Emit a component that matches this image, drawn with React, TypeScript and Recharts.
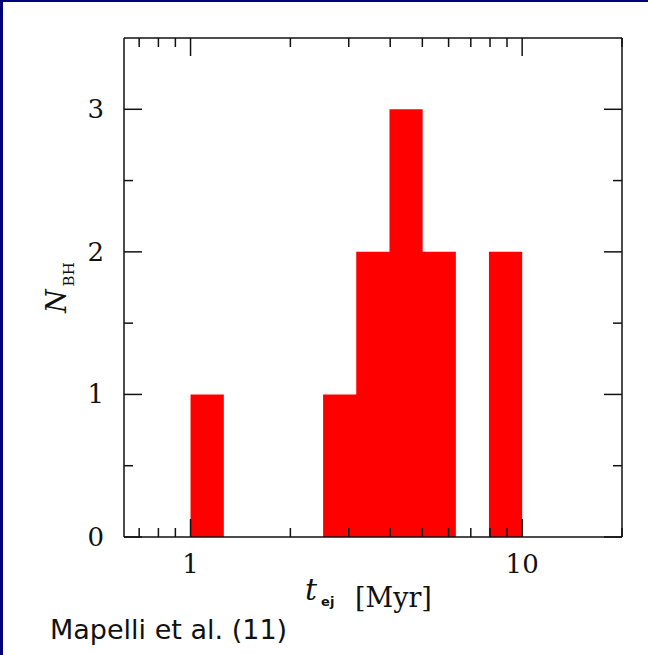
import React from 'react';
import { ComposedChart, Area, XAxis, YAxis } from 'recharts';

// Histogram bins in log(t_ej) (left edge of each bin, count in bin)
const binEdges = [1, 1.26, 2.51, 3.16, 3.98, 5.01, 6.31, 7.94, 10];
const binCounts = [1, 0, 1, 2, 3, 2, 0, 2, 0];

const xMajorTicks = [1, 10];
const xMinorTicks = [0.7, 0.8, 0.9, 2, 3, 4, 5, 6, 7, 8, 9, 20];
const yMajorTicks = [0, 1, 2, 3];
const yMinorTicks = [0.5, 1.5, 2.5];
const xDomain: [number, number] = [0.63, 20];
const yDomain: [number, number] = [0, 3.5];

const data = binEdges.map((x, i) => ({ x, n: binCounts[i] }));

const xTicks = [...xMajorTicks, ...xMinorTicks].sort((a, b) => a - b);
const yTicks = [...yMajorTicks, ...yMinorTicks].sort((a, b) => a - b);

const TICK_FONT = '"DejaVu Serif", serif';
const MAJOR = 18;
const MINOR = 9;
const INK = '#111';

const BottomTick = (props: any) => {
  const { x, y, payload } = props;
  const major = xMajorTicks.includes(payload.value);
  return (
    <g>
      <line x1={x} y1={y} x2={x} y2={y - (major ? MAJOR : MINOR)} stroke={INK} strokeWidth={1.5} />
      {major && (
        <text x={x} y={y + 36} textAnchor="middle" fontFamily={TICK_FONT} fontSize={26} fill={INK}>
          {payload.value}
        </text>
      )}
    </g>
  );
};

const TopTick = (props: any) => {
  const { x, y, payload } = props;
  const major = xMajorTicks.includes(payload.value);
  return <line x1={x} y1={y} x2={x} y2={y + (major ? MAJOR : MINOR)} stroke={INK} strokeWidth={1.5} />;
};

const LeftTick = (props: any) => {
  const { x, y, payload } = props;
  const major = yMajorTicks.includes(payload.value);
  return (
    <g>
      <line x1={x} y1={y} x2={x + (major ? MAJOR : MINOR)} y2={y} stroke={INK} strokeWidth={1.5} />
      {major && (
        <text x={x - 20} y={y + 9} textAnchor="end" fontFamily={TICK_FONT} fontSize={26} fill={INK}>
          {payload.value}
        </text>
      )}
    </g>
  );
};

const RightTick = (props: any) => {
  const { x, y, payload } = props;
  const major = yMajorTicks.includes(payload.value);
  return <line x1={x} y1={y} x2={x - (major ? MAJOR : MINOR)} y2={y} stroke={INK} strokeWidth={1.5} />;
};

const axisLine = { stroke: INK, strokeWidth: 1.5 };

export default function App() {
  return (
    <div style={{ position: 'absolute', left: 0, top: 0, width: 648, height: 655, background: '#fff', overflow: 'hidden' }}>
      <ComposedChart width={648} height={655} data={data} margin={{ top: 0, right: 0, bottom: 0, left: 0 }}>
        <Area
          type="stepAfter"
          dataKey="n"
          xAxisId="bottom"
          yAxisId="left"
          fill="#ff0000"
          fillOpacity={1}
          stroke="none"
          dot={false}
          activeDot={false}
          isAnimationActive={false}
        />
        <XAxis
          xAxisId="bottom"
          dataKey="x"
          type="number"
          scale="log"
          domain={xDomain}
          allowDataOverflow
          ticks={xTicks}
          interval={0}
          orientation="bottom"
          height={118}
          tickSize={0}
          tickMargin={0}
          tickLine={false}
          axisLine={axisLine}
          tick={<BottomTick />}
        />
        <XAxis
          xAxisId="top"
          dataKey="x"
          type="number"
          scale="log"
          domain={xDomain}
          allowDataOverflow
          ticks={xTicks}
          interval={0}
          orientation="top"
          height={38}
          tickSize={0}
          tickMargin={0}
          tickLine={false}
          axisLine={axisLine}
          tick={<TopTick />}
        />
        <YAxis
          yAxisId="left"
          type="number"
          domain={yDomain}
          allowDataOverflow
          ticks={yTicks}
          interval={0}
          orientation="left"
          width={124}
          tickSize={0}
          tickMargin={0}
          tickLine={false}
          axisLine={axisLine}
          tick={<LeftTick />}
        />
        <YAxis
          yAxisId="right"
          type="number"
          domain={yDomain}
          allowDataOverflow
          ticks={yTicks}
          interval={0}
          orientation="right"
          width={26}
          tickSize={0}
          tickMargin={0}
          tickLine={false}
          axisLine={axisLine}
          tick={<RightTick />}
        />
      </ComposedChart>
      <svg width={648} height={655} style={{ position: 'absolute', left: 0, top: 0, pointerEvents: 'none' }}>
        <text transform="rotate(-90 66 313)" x={66} y={313} fill={INK}>
          <tspan fontFamily={TICK_FONT} fontStyle="italic" fontSize={27}>N</tspan>
          <tspan fontFamily={TICK_FONT} fontSize={15} dx={3} dy={8}>BH</tspan>
        </text>
        <text x={305} y={600} fill={INK} fontFamily={TICK_FONT}>
          <tspan fontStyle="italic" fontSize={30}>t</tspan>
          <tspan fontFamily='"DejaVu Sans", sans-serif' fontWeight="bold" fontSize={13} dx={4} dy={6}>ej</tspan>
          <tspan fontSize={27} x={355} y={607}>[Myr]</tspan>
        </text>
        <text x={50} y={639} fontFamily='"DejaVu Sans", sans-serif' fontSize={27} fill="#111">
          Mapelli et al. (11)
        </text>
      </svg>
      <div style={{ position: 'absolute', left: 0, top: 0, width: 3, height: 655, background: '#00007a' }} />
      <div style={{ position: 'absolute', left: 0, top: 0, width: 648, height: 2, background: '#00007a' }} />
    </div>
  );
}
